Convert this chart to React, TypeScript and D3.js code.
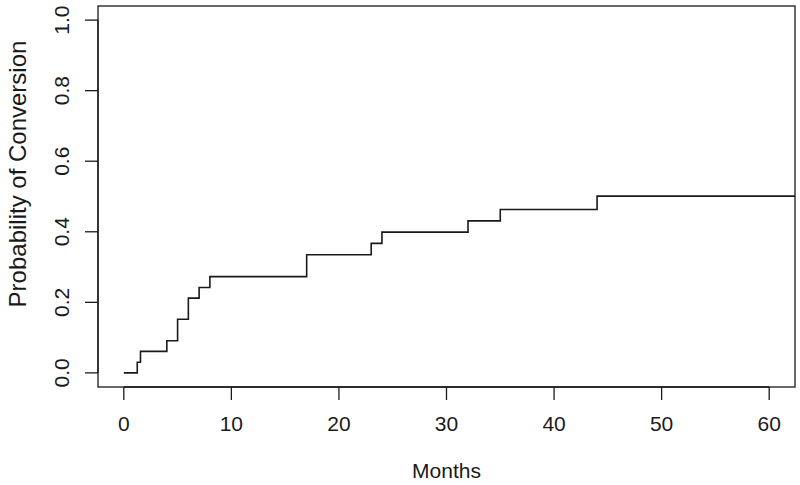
import React, { useRef, useEffect } from "react";
import * as d3 from "d3";

// Kaplan-Meier style conversion curve
const eventMonths = [0, 1.25, 1.55, 4, 5, 6, 7, 8, 17, 23, 24, 32, 35, 44, 66];
const conversionProb = [0, 0.030, 0.061, 0.091, 0.152, 0.212, 0.242, 0.273, 0.335, 0.367, 0.399, 0.431, 0.463, 0.501, 0.501];
const xTicks = [0, 10, 20, 30, 40, 50, 60];
const yTicks = [0, 0.2, 0.4, 0.6, 0.8, 1.0];

const App = () => {
    const chartRef = useRef<HTMLDivElement>(null);

    useEffect(() => {
        const width = 800;
        const height = 485;
        const left = 98, right = 795, top = 6, bottom = 387;
        const font = "21px 'Liberation Sans', Arial, sans-serif";
        const labFont = "24px 'Liberation Sans', Arial, sans-serif";

        // R style: 4% padding around xlim = c(0, 60), ylim = c(0, 1)
        const x = d3.scaleLinear().domain([-2.4, 62.4]).range([left, right]);
        const y = d3.scaleLinear().domain([-0.04, 1.04]).range([bottom, top]);

        const data = eventMonths.map((m, i) => ({ m, p: conversionProb[i] }));

        const line = d3.line<{ m: number; p: number }>()
            .x(d => x(d.m))
            .y(d => y(d.p))
            .curve(d3.curveStepAfter);

        const svg = d3.create("svg")
            .attr("width", width)
            .attr("height", height)
            .attr("viewBox", [0, 0, width, height])
            .style("position", "absolute")
            .style("left", "0px")
            .style("top", "0px")
            .style("background", "#fff");

        svg.append("clipPath")
            .attr("id", "plot-clip")
            .append("rect")
            .attr("x", left)
            .attr("y", top)
            .attr("width", right - left)
            .attr("height", bottom - top);

        svg.append("path")
            .datum(data)
            .attr("clip-path", "url(#plot-clip)")
            .attr("fill", "none")
            .attr("stroke", "#1a1a1a")
            .attr("stroke-width", 1.6)
            .attr("d", line);

        svg.append("rect")
            .attr("x", left)
            .attr("y", top)
            .attr("width", right - left)
            .attr("height", bottom - top)
            .attr("fill", "none")
            .attr("stroke", "#1a1a1a")
            .attr("stroke-width", 1.3);

        // x axis
        const gx = svg.append("g");
        gx.append("line")
            .attr("x1", x(xTicks[0])).attr("x2", x(xTicks[xTicks.length - 1]))
            .attr("y1", bottom).attr("y2", bottom)
            .attr("stroke", "#1a1a1a").attr("stroke-width", 1.3);
        gx.selectAll("line.tick")
            .data(xTicks)
            .join("line")
            .attr("class", "tick")
            .attr("x1", d => x(d)).attr("x2", d => x(d))
            .attr("y1", bottom).attr("y2", bottom + 13)
            .attr("stroke", "#1a1a1a").attr("stroke-width", 1.3);
        gx.selectAll("text")
            .data(xTicks)
            .join("text")
            .attr("x", d => x(d))
            .attr("y", 424)
            .attr("dy", "0.35em")
            .attr("text-anchor", "middle")
            .style("font", font)
            .attr("fill", "#1a1a1a")
            .text(d => d3.format("d")(d));

        // y axis
        const gy = svg.append("g");
        gy.append("line")
            .attr("x1", left).attr("x2", left)
            .attr("y1", y(yTicks[0])).attr("y2", y(yTicks[yTicks.length - 1]))
            .attr("stroke", "#1a1a1a").attr("stroke-width", 1.3);
        gy.selectAll("line.tick")
            .data(yTicks)
            .join("line")
            .attr("class", "tick")
            .attr("x1", left - 13).attr("x2", left)
            .attr("y1", d => y(d)).attr("y2", d => y(d))
            .attr("stroke", "#1a1a1a").attr("stroke-width", 1.3);
        gy.selectAll("text")
            .data(yTicks)
            .join("text")
            .attr("transform", d => `translate(62,${y(d)}) rotate(-90)`)
            .attr("dy", "0.35em")
            .attr("text-anchor", "middle")
            .style("font", font)
            .attr("fill", "#1a1a1a")
            .text(d => d3.format(".1f")(d));

        svg.append("text")
            .attr("x", (left + right) / 2)
            .attr("y", 471)
            .attr("dy", "0.35em")
            .attr("text-anchor", "middle")
            .style("font", font)
            .attr("fill", "#1a1a1a")
            .text("Months");

        svg.append("text")
            .attr("transform", `translate(18,174) rotate(-90)`)
            .attr("dy", "0.35em")
            .attr("text-anchor", "middle")
            .style("font", labFont)
            .attr("fill", "#1a1a1a")
            .text("Probability of Conversion");

        chartRef.current!.innerHTML = "";
        chartRef.current!.appendChild(svg.node()!);
    }, []);

    return <div ref={chartRef} />;
};

export default App;
